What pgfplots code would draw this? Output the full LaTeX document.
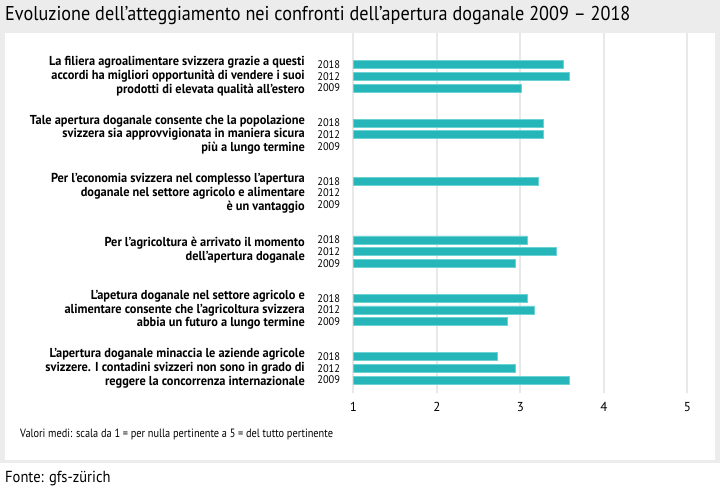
\documentclass[border=0pt]{standalone}
\usepackage{pgfplots}
\pgfplotsset{compat=1.18}
\usepackage{fontspec}
\setmainfont{PT Sans}
\newfontfamily\condA[FakeStretch=0.95]{PT Sans}
\newfontfamily\condB[FakeStretch=0.91]{PT Sans}
\newfontfamily\condC[FakeStretch=0.86]{PT Sans}
\definecolor{bgray}{HTML}{ECECEC}
\definecolor{gridc}{HTML}{E8E8E8}
\definecolor{barc}{HTML}{26B5B9}
\definecolor{barl}{HTML}{6CD3D5}
\begin{document}
\begin{tikzpicture}[x=1bp,y=-1bp]
\useasboundingbox (0,0) rectangle (720,495);
\fill[white] (0,0) rectangle (720,495);
\fill[bgray] (0,0) rectangle (720,463);
\fill[white] (5,33) rectangle (715,460);
\node[anchor=west,inner sep=0pt,font=\fontsize{20bp}{22bp}\condB] at (5,16) {Evoluzione dell’atteggiamento nei confronti dell’apertura doganale 2009 – 2018};
\begin{axis}[
  at={(353.3bp,-393bp)}, anchor=south west,
  width=334bp, height=360bp, scale only axis,
  xmin=1, xmax=5, ymin=-393, ymax=-33,
  axis line style={draw=none},
  xtick={1,2,3,4,5}, major tick length=0pt,
  xmajorgrids, grid style={gridc, line width=2bp},
  ytick={-64.6,-76.3,-88.0,-123.0,-134.7,-146.4,-181.4,-193.1,-204.8,-239.8,-251.5,-263.2,-298.2,-309.9,-321.6,-356.6,-368.3,-380.0},
  yticklabels={2018,2012,2009,2018,2012,2009,2018,2012,2009,2018,2012,2009,2018,2012,2009,2018,2012,2009},
  yticklabel style={anchor=east, inner sep=0pt, xshift=-13bp, font=\fontsize{11bp}{12bp}\condA},
  xticklabel style={anchor=north, inner sep=0pt, yshift=-9bp, font=\fontsize{13bp}{14bp}\selectfont},
  /pgf/number format/assume math mode=true,
  clip=true,
]
\addplot[xbar, bar width=8, bar shift=0pt, fill=barc, draw=barl, line width=0.6bp] coordinates {
 (3.51,-64.6) (3.59,-76.3) (3.01,-88.0)
 (3.28,-123.0) (3.28,-134.7)
 (3.22,-181.4)
 (3.08,-239.8) (3.43,-251.5) (2.94,-263.2)
 (3.08,-298.2) (3.17,-309.9) (2.84,-321.6)
 (2.72,-356.6) (2.94,-368.3) (3.59,-380.0)
};
\end{axis}
\tikzset{lab/.style={anchor=east,inner sep=0pt,align=right,font=\fontsize{13bp}{13.7bp}\condA\bfseries}}
\node[lab] at (305,76.3) {La filiera agroalimentare svizzera grazie a questi\\accordi ha migliori opportunità di vendere i suoi\\prodotti di elevata qualità all’estero};
\node[lab] at (305,134.7) {Tale apertura doganale consente che la popolazione\\svizzera sia approvvigionata in maniera sicura\\più a lungo termine};
\node[lab] at (305,193.1) {Per l’economia svizzera nel complesso l’apertura\\doganale nel settore agricolo e alimentare\\è un vantaggio};
\node[lab] at (305,250.5) {Per l’agricoltura è arrivato il momento\\dell’apertura doganale};
\node[lab] at (305,309.9) {L’apetura doganale nel settore agricolo e\\alimentare consente che l’agricoltura svizzera\\abbia un futuro a lungo termine};
\node[lab] at (305,368.3) {L’apertura doganale minaccia le aziende agricole\\svizzere. I contadini svizzeri non sono in grado di\\reggere la concorrenza internazionale};
\node[anchor=west,inner sep=0pt,font=\fontsize{12bp}{14bp}\condC] at (20,434) {Valori medi: scala da 1 = per nulla pertinente a 5 = del tutto pertinente};
\node[anchor=west,inner sep=0pt,font=\fontsize{16bp}{18bp}\condB] at (5,479) {Fonte: gfs-zürich};
\end{tikzpicture}
\end{document}
